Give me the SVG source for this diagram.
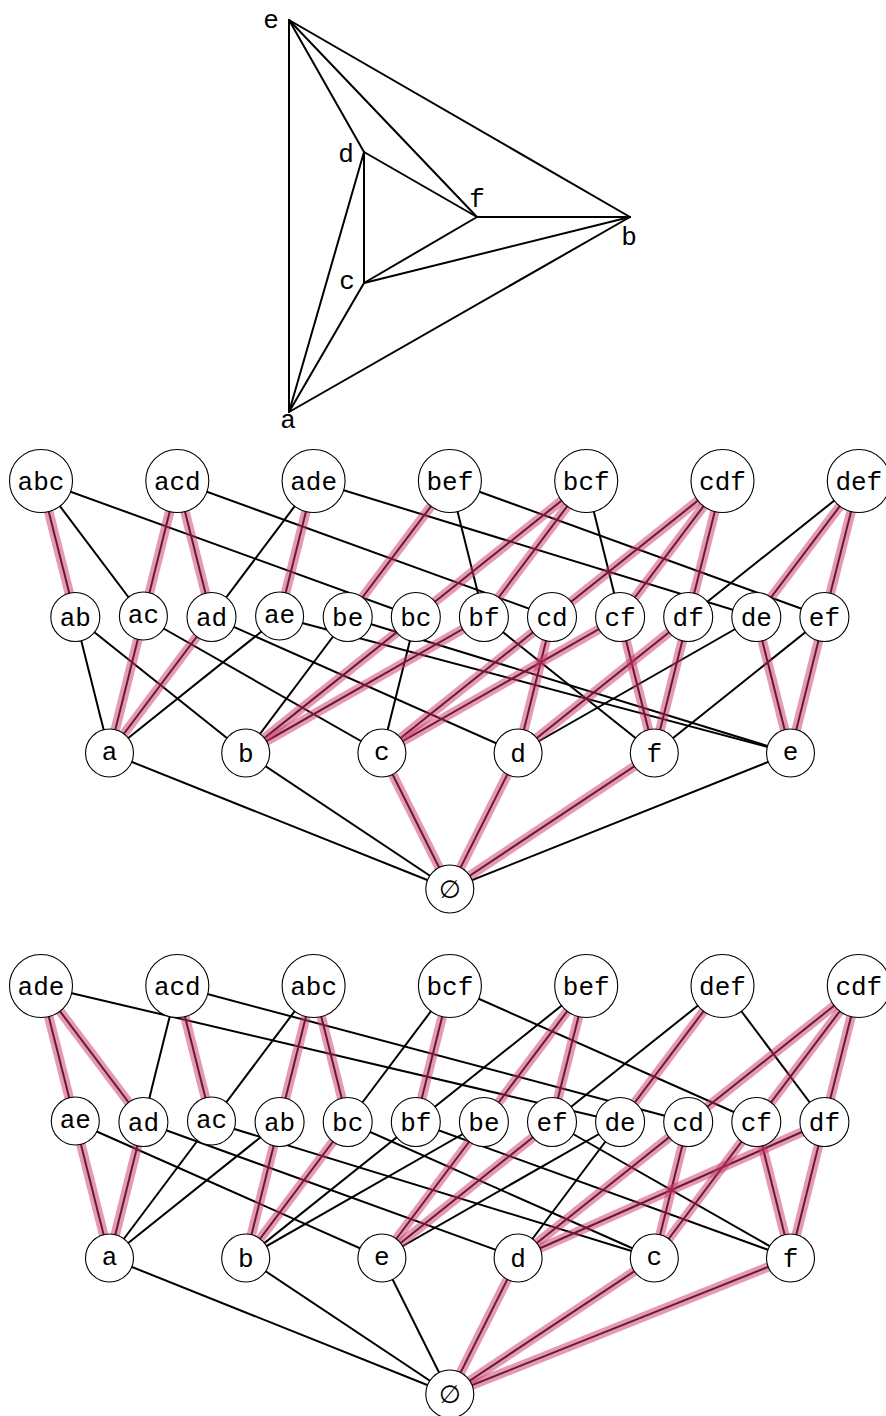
<svg xmlns="http://www.w3.org/2000/svg" width="886" height="1416" viewBox="0 0 886 1416">
<style>
.bg{fill:#fff}
.g line{stroke:#000;stroke-width:2;stroke-linecap:round}
.k line{stroke:#000;stroke-width:2}
.p line{stroke:#cc3366;stroke-width:9.5;stroke-opacity:0.5}
.n circle{fill:#fff;stroke:#000;stroke-width:1.1}
text{font-family:"Liberation Mono","DejaVu Sans Mono",monospace;font-size:26px;fill:#000;text-anchor:middle}
.es{font-family:"DejaVu Sans",sans-serif;font-size:25px}
</style>
<rect class="bg" x="0" y="0" width="886" height="1416"/>

<!-- top planar graph -->
<g id="planar-graph">
<g id="graph-edges" class="g">
<line x1="289" y1="20" x2="289" y2="412"/>
<line x1="289" y1="20" x2="364" y2="152"/>
<line x1="289" y1="20" x2="477" y2="217"/>
<line x1="289" y1="20" x2="630" y2="217"/>
<line x1="364" y1="152" x2="477" y2="217"/>
<line x1="364" y1="152" x2="364" y2="283"/>
<line x1="364" y1="152" x2="289" y2="412"/>
<line x1="477" y1="217" x2="630" y2="217"/>
<line x1="477" y1="217" x2="364" y2="283"/>
<line x1="364" y1="283" x2="630" y2="217"/>
<line x1="364" y1="283" x2="289" y2="412"/>
<line x1="289" y1="412" x2="630" y2="217"/>
</g>
<g id="graph-labels">
<text x="271" y="28">e</text>
<text x="346" y="162">d</text>
<text x="477" y="207">f</text>
<text x="629" y="245">b</text>
<text x="347" y="289">c</text>
<text x="288" y="428">a</text>
</g>
</g>

<!-- lattice 1 connectors -->
<g id="lattice1-connectors">
<g class="k">
<line x1="41" y1="481" x2="75.3" y2="617"/>
<line x1="41" y1="481" x2="143.4" y2="617"/>
<line x1="41" y1="481" x2="415.8" y2="617"/>
<line x1="177.3" y1="481" x2="143.4" y2="617"/>
<line x1="177.3" y1="481" x2="211.5" y2="617"/>
<line x1="177.3" y1="481" x2="552" y2="617"/>
<line x1="313.6" y1="481" x2="211.5" y2="617"/>
<line x1="313.6" y1="481" x2="279.6" y2="617"/>
<line x1="313.6" y1="481" x2="756.3" y2="617"/>
<line x1="449.9" y1="481" x2="347.7" y2="617"/>
<line x1="449.9" y1="481" x2="483.9" y2="617"/>
<line x1="449.9" y1="481" x2="824.4" y2="617"/>
<line x1="586.2" y1="481" x2="415.8" y2="617"/>
<line x1="586.2" y1="481" x2="483.9" y2="617"/>
<line x1="586.2" y1="481" x2="620.1" y2="617"/>
<line x1="722.5" y1="481" x2="552" y2="617"/>
<line x1="722.5" y1="481" x2="620.1" y2="617"/>
<line x1="722.5" y1="481" x2="688.2" y2="617"/>
<line x1="858.8" y1="481" x2="756.3" y2="617"/>
<line x1="858.8" y1="481" x2="824.4" y2="617"/>
<line x1="858.8" y1="481" x2="688.2" y2="617"/>
<line x1="75.3" y1="617" x2="109.5" y2="753"/>
<line x1="75.3" y1="617" x2="245.7" y2="753"/>
<line x1="143.4" y1="617" x2="109.5" y2="753"/>
<line x1="143.4" y1="617" x2="381.9" y2="753"/>
<line x1="211.5" y1="617" x2="109.5" y2="753"/>
<line x1="211.5" y1="617" x2="518.1" y2="753"/>
<line x1="279.6" y1="617" x2="109.5" y2="753"/>
<line x1="279.6" y1="617" x2="790.5" y2="753"/>
<line x1="347.7" y1="617" x2="245.7" y2="753"/>
<line x1="347.7" y1="617" x2="790.5" y2="753"/>
<line x1="415.8" y1="617" x2="245.7" y2="753"/>
<line x1="415.8" y1="617" x2="381.9" y2="753"/>
<line x1="483.9" y1="617" x2="245.7" y2="753"/>
<line x1="483.9" y1="617" x2="654.3" y2="753"/>
<line x1="552" y1="617" x2="381.9" y2="753"/>
<line x1="552" y1="617" x2="518.1" y2="753"/>
<line x1="620.1" y1="617" x2="381.9" y2="753"/>
<line x1="620.1" y1="617" x2="654.3" y2="753"/>
<line x1="688.2" y1="617" x2="518.1" y2="753"/>
<line x1="688.2" y1="617" x2="654.3" y2="753"/>
<line x1="756.3" y1="617" x2="518.1" y2="753"/>
<line x1="756.3" y1="617" x2="790.5" y2="753"/>
<line x1="824.4" y1="617" x2="654.3" y2="753"/>
<line x1="824.4" y1="617" x2="790.5" y2="753"/>
<line x1="109.5" y1="753" x2="449.8" y2="889"/>
<line x1="245.7" y1="753" x2="449.8" y2="889"/>
<line x1="381.9" y1="753" x2="449.8" y2="889"/>
<line x1="518.1" y1="753" x2="449.8" y2="889"/>
<line x1="654.3" y1="753" x2="449.8" y2="889"/>
<line x1="790.5" y1="753" x2="449.8" y2="889"/>
</g>
<g class="p">
<line x1="41" y1="481" x2="75.3" y2="617"/>
<line x1="177.3" y1="481" x2="143.4" y2="617"/>
<line x1="177.3" y1="481" x2="211.5" y2="617"/>
<line x1="313.6" y1="481" x2="279.6" y2="617"/>
<line x1="449.9" y1="481" x2="347.7" y2="617"/>
<line x1="586.2" y1="481" x2="415.8" y2="617"/>
<line x1="586.2" y1="481" x2="483.9" y2="617"/>
<line x1="722.5" y1="481" x2="552" y2="617"/>
<line x1="722.5" y1="481" x2="620.1" y2="617"/>
<line x1="722.5" y1="481" x2="688.2" y2="617"/>
<line x1="858.8" y1="481" x2="756.3" y2="617"/>
<line x1="858.8" y1="481" x2="824.4" y2="617"/>
<line x1="143.4" y1="617" x2="109.5" y2="753"/>
<line x1="211.5" y1="617" x2="109.5" y2="753"/>
<line x1="415.8" y1="617" x2="245.7" y2="753"/>
<line x1="483.9" y1="617" x2="245.7" y2="753"/>
<line x1="552" y1="617" x2="381.9" y2="753"/>
<line x1="552" y1="617" x2="518.1" y2="753"/>
<line x1="620.1" y1="617" x2="381.9" y2="753"/>
<line x1="620.1" y1="617" x2="654.3" y2="753"/>
<line x1="688.2" y1="617" x2="518.1" y2="753"/>
<line x1="688.2" y1="617" x2="654.3" y2="753"/>
<line x1="756.3" y1="617" x2="790.5" y2="753"/>
<line x1="824.4" y1="617" x2="790.5" y2="753"/>
<line x1="381.9" y1="753" x2="449.8" y2="889"/>
<line x1="518.1" y1="753" x2="449.8" y2="889"/>
<line x1="654.3" y1="753" x2="449.8" y2="889"/>
</g>
</g>

<!-- lattice 2 connectors -->
<g id="lattice2-connectors">
<g class="k">
<line x1="41" y1="986" x2="75.3" y2="1122"/>
<line x1="41" y1="986" x2="143.4" y2="1122"/>
<line x1="41" y1="986" x2="620.1" y2="1122"/>
<line x1="177.3" y1="986" x2="143.4" y2="1122"/>
<line x1="177.3" y1="986" x2="211.5" y2="1122"/>
<line x1="177.3" y1="986" x2="688.2" y2="1122"/>
<line x1="313.6" y1="986" x2="279.6" y2="1122"/>
<line x1="313.6" y1="986" x2="347.7" y2="1122"/>
<line x1="313.6" y1="986" x2="211.5" y2="1122"/>
<line x1="449.9" y1="986" x2="415.8" y2="1122"/>
<line x1="449.9" y1="986" x2="347.7" y2="1122"/>
<line x1="449.9" y1="986" x2="756.3" y2="1122"/>
<line x1="586.2" y1="986" x2="483.9" y2="1122"/>
<line x1="586.2" y1="986" x2="552" y2="1122"/>
<line x1="586.2" y1="986" x2="415.8" y2="1122"/>
<line x1="722.5" y1="986" x2="620.1" y2="1122"/>
<line x1="722.5" y1="986" x2="552" y2="1122"/>
<line x1="722.5" y1="986" x2="824.4" y2="1122"/>
<line x1="858.8" y1="986" x2="688.2" y2="1122"/>
<line x1="858.8" y1="986" x2="756.3" y2="1122"/>
<line x1="858.8" y1="986" x2="824.4" y2="1122"/>
<line x1="75.3" y1="1122" x2="109.5" y2="1258"/>
<line x1="75.3" y1="1122" x2="381.9" y2="1258"/>
<line x1="143.4" y1="1122" x2="109.5" y2="1258"/>
<line x1="143.4" y1="1122" x2="518.1" y2="1258"/>
<line x1="211.5" y1="1122" x2="109.5" y2="1258"/>
<line x1="211.5" y1="1122" x2="654.3" y2="1258"/>
<line x1="279.6" y1="1122" x2="109.5" y2="1258"/>
<line x1="279.6" y1="1122" x2="245.7" y2="1258"/>
<line x1="347.7" y1="1122" x2="245.7" y2="1258"/>
<line x1="347.7" y1="1122" x2="654.3" y2="1258"/>
<line x1="415.8" y1="1122" x2="245.7" y2="1258"/>
<line x1="415.8" y1="1122" x2="790.5" y2="1258"/>
<line x1="483.9" y1="1122" x2="245.7" y2="1258"/>
<line x1="483.9" y1="1122" x2="381.9" y2="1258"/>
<line x1="552" y1="1122" x2="381.9" y2="1258"/>
<line x1="552" y1="1122" x2="790.5" y2="1258"/>
<line x1="620.1" y1="1122" x2="381.9" y2="1258"/>
<line x1="620.1" y1="1122" x2="518.1" y2="1258"/>
<line x1="688.2" y1="1122" x2="518.1" y2="1258"/>
<line x1="688.2" y1="1122" x2="654.3" y2="1258"/>
<line x1="756.3" y1="1122" x2="654.3" y2="1258"/>
<line x1="756.3" y1="1122" x2="790.5" y2="1258"/>
<line x1="824.4" y1="1122" x2="518.1" y2="1258"/>
<line x1="824.4" y1="1122" x2="790.5" y2="1258"/>
<line x1="109.5" y1="1258" x2="449.8" y2="1394"/>
<line x1="245.7" y1="1258" x2="449.8" y2="1394"/>
<line x1="381.9" y1="1258" x2="449.8" y2="1394"/>
<line x1="518.1" y1="1258" x2="449.8" y2="1394"/>
<line x1="654.3" y1="1258" x2="449.8" y2="1394"/>
<line x1="790.5" y1="1258" x2="449.8" y2="1394"/>
</g>
<g class="p">
<line x1="41" y1="986" x2="75.3" y2="1122"/>
<line x1="41" y1="986" x2="143.4" y2="1122"/>
<line x1="177.3" y1="986" x2="211.5" y2="1122"/>
<line x1="313.6" y1="986" x2="279.6" y2="1122"/>
<line x1="313.6" y1="986" x2="347.7" y2="1122"/>
<line x1="449.9" y1="986" x2="415.8" y2="1122"/>
<line x1="586.2" y1="986" x2="483.9" y2="1122"/>
<line x1="586.2" y1="986" x2="552" y2="1122"/>
<line x1="722.5" y1="986" x2="620.1" y2="1122"/>
<line x1="858.8" y1="986" x2="688.2" y2="1122"/>
<line x1="858.8" y1="986" x2="756.3" y2="1122"/>
<line x1="858.8" y1="986" x2="824.4" y2="1122"/>
<line x1="75.3" y1="1122" x2="109.5" y2="1258"/>
<line x1="143.4" y1="1122" x2="109.5" y2="1258"/>
<line x1="279.6" y1="1122" x2="245.7" y2="1258"/>
<line x1="347.7" y1="1122" x2="245.7" y2="1258"/>
<line x1="483.9" y1="1122" x2="381.9" y2="1258"/>
<line x1="552" y1="1122" x2="381.9" y2="1258"/>
<line x1="688.2" y1="1122" x2="518.1" y2="1258"/>
<line x1="688.2" y1="1122" x2="654.3" y2="1258"/>
<line x1="756.3" y1="1122" x2="654.3" y2="1258"/>
<line x1="756.3" y1="1122" x2="790.5" y2="1258"/>
<line x1="824.4" y1="1122" x2="518.1" y2="1258"/>
<line x1="824.4" y1="1122" x2="790.5" y2="1258"/>
<line x1="518.1" y1="1258" x2="449.8" y2="1394"/>
<line x1="654.3" y1="1258" x2="449.8" y2="1394"/>
<line x1="790.5" y1="1258" x2="449.8" y2="1394"/>
</g>
</g>

<!-- lattice 1 nodes -->
<g id="lattice1-nodes" class="n">
<g id="L1-abc"><circle cx="41" cy="481" r="31.5"/><text x="41" y="490">abc</text></g>
<g id="L1-acd"><circle cx="177.3" cy="481" r="31.5"/><text x="177.3" y="490">acd</text></g>
<g id="L1-ade"><circle cx="313.6" cy="481" r="31.5"/><text x="313.6" y="490">ade</text></g>
<g id="L1-bef"><circle cx="449.9" cy="481" r="31.5"/><text x="449.9" y="490">bef</text></g>
<g id="L1-bcf"><circle cx="586.2" cy="481" r="31.5"/><text x="586.2" y="490">bcf</text></g>
<g id="L1-cdf"><circle cx="722.5" cy="481" r="31.5"/><text x="722.5" y="490">cdf</text></g>
<g id="L1-def"><circle cx="858.8" cy="481" r="31.5"/><text x="858.8" y="490">def</text></g>
<g id="L1-ab"><circle cx="75.3" cy="617" r="24.5"/><text x="75.3" y="626">ab</text></g>
<g id="L1-ac"><circle cx="143.4" cy="616" r="24"/><text x="143.4" y="623">ac</text></g>
<g id="L1-ad"><circle cx="211.5" cy="617" r="24.5"/><text x="211.5" y="626">ad</text></g>
<g id="L1-ae"><circle cx="279.6" cy="616" r="24"/><text x="279.6" y="623">ae</text></g>
<g id="L1-be"><circle cx="347.7" cy="617" r="24.5"/><text x="347.7" y="626">be</text></g>
<g id="L1-bc"><circle cx="415.8" cy="617" r="24.5"/><text x="415.8" y="626">bc</text></g>
<g id="L1-bf"><circle cx="483.9" cy="617" r="24.5"/><text x="483.9" y="626">bf</text></g>
<g id="L1-cd"><circle cx="552" cy="617" r="24.5"/><text x="552" y="626">cd</text></g>
<g id="L1-cf"><circle cx="620.1" cy="617" r="24.5"/><text x="620.1" y="626">cf</text></g>
<g id="L1-df"><circle cx="688.2" cy="617" r="24.5"/><text x="688.2" y="626">df</text></g>
<g id="L1-de"><circle cx="756.3" cy="617" r="24.5"/><text x="756.3" y="626">de</text></g>
<g id="L1-ef"><circle cx="824.4" cy="617" r="24.5"/><text x="824.4" y="626">ef</text></g>
<g id="L1-a"><circle cx="109.5" cy="753" r="24"/><text x="109.5" y="760">a</text></g>
<g id="L1-b"><circle cx="245.7" cy="753" r="24"/><text x="245.7" y="762">b</text></g>
<g id="L1-c"><circle cx="381.9" cy="753" r="24"/><text x="381.9" y="760">c</text></g>
<g id="L1-d"><circle cx="518.1" cy="753" r="24"/><text x="518.1" y="762">d</text></g>
<g id="L1-f"><circle cx="654.3" cy="753" r="24"/><text x="654.3" y="762">f</text></g>
<g id="L1-e"><circle cx="790.5" cy="753" r="24"/><text x="790.5" y="760">e</text></g>
<g id="L1-empty"><circle cx="449.8" cy="889" r="24"/><text class="es" x="449.8" y="898">∅</text></g>
</g>

<!-- lattice 2 nodes -->
<g id="lattice2-nodes" class="n">
<g id="L2-ade"><circle cx="41" cy="986" r="31.5"/><text x="41" y="995">ade</text></g>
<g id="L2-acd"><circle cx="177.3" cy="986" r="31.5"/><text x="177.3" y="995">acd</text></g>
<g id="L2-abc"><circle cx="313.6" cy="986" r="31.5"/><text x="313.6" y="995">abc</text></g>
<g id="L2-bcf"><circle cx="449.9" cy="986" r="31.5"/><text x="449.9" y="995">bcf</text></g>
<g id="L2-bef"><circle cx="586.2" cy="986" r="31.5"/><text x="586.2" y="995">bef</text></g>
<g id="L2-def"><circle cx="722.5" cy="986" r="31.5"/><text x="722.5" y="995">def</text></g>
<g id="L2-cdf"><circle cx="858.8" cy="986" r="31.5"/><text x="858.8" y="995">cdf</text></g>
<g id="L2-ae"><circle cx="75.3" cy="1121" r="24"/><text x="75.3" y="1128">ae</text></g>
<g id="L2-ad"><circle cx="143.4" cy="1122" r="24.5"/><text x="143.4" y="1131">ad</text></g>
<g id="L2-ac"><circle cx="211.5" cy="1121" r="24"/><text x="211.5" y="1128">ac</text></g>
<g id="L2-ab"><circle cx="279.6" cy="1122" r="24.5"/><text x="279.6" y="1131">ab</text></g>
<g id="L2-bc"><circle cx="347.7" cy="1122" r="24.5"/><text x="347.7" y="1131">bc</text></g>
<g id="L2-bf"><circle cx="415.8" cy="1122" r="24.5"/><text x="415.8" y="1131">bf</text></g>
<g id="L2-be"><circle cx="483.9" cy="1122" r="24.5"/><text x="483.9" y="1131">be</text></g>
<g id="L2-ef"><circle cx="552" cy="1122" r="24.5"/><text x="552" y="1131">ef</text></g>
<g id="L2-de"><circle cx="620.1" cy="1122" r="24.5"/><text x="620.1" y="1131">de</text></g>
<g id="L2-cd"><circle cx="688.2" cy="1122" r="24.5"/><text x="688.2" y="1131">cd</text></g>
<g id="L2-cf"><circle cx="756.3" cy="1122" r="24.5"/><text x="756.3" y="1131">cf</text></g>
<g id="L2-df"><circle cx="824.4" cy="1122" r="24.5"/><text x="824.4" y="1131">df</text></g>
<g id="L2-a"><circle cx="109.5" cy="1258" r="24"/><text x="109.5" y="1265">a</text></g>
<g id="L2-b"><circle cx="245.7" cy="1258" r="24"/><text x="245.7" y="1267">b</text></g>
<g id="L2-e"><circle cx="381.9" cy="1258" r="24"/><text x="381.9" y="1265">e</text></g>
<g id="L2-d"><circle cx="518.1" cy="1258" r="24"/><text x="518.1" y="1267">d</text></g>
<g id="L2-c"><circle cx="654.3" cy="1258" r="24"/><text x="654.3" y="1265">c</text></g>
<g id="L2-f"><circle cx="790.5" cy="1258" r="24"/><text x="790.5" y="1267">f</text></g>
<g id="L2-empty"><circle cx="449.8" cy="1394" r="24"/><text class="es" x="449.8" y="1403">∅</text></g>
</g>
</svg>
